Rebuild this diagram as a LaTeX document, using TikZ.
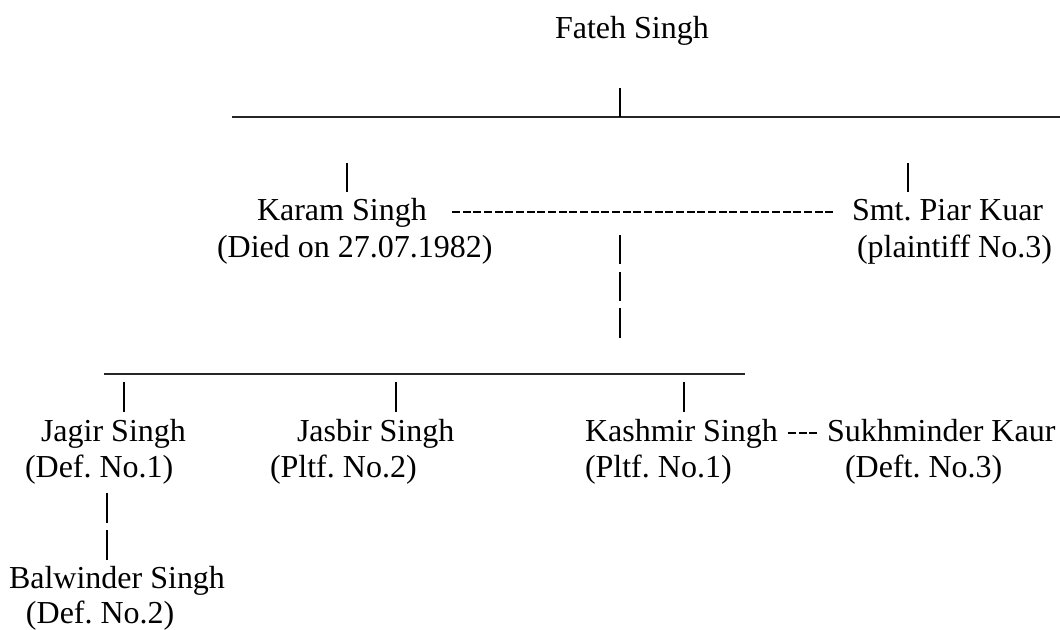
\documentclass[tikz,border=0pt]{standalone}
\usepackage{fontspec}
\setmainfont{Liberation Serif}
\frenchspacing
\begin{document}
\begin{tikzpicture}[x=0.75pt,y=-0.75pt,
  person/.style={anchor=base west,inner sep=0pt,outer sep=0pt,font=\fontsize{24}{28}\selectfont},
  bar/.style={line width=1.1pt,black},
  rule/.style={line width=1pt,black!85},
  spouse/.style={line width=1.4pt,black,dash pattern=on 6pt off 2pt}]
\useasboundingbox (0,0) rectangle (1060,629);
% people
\node[person] (fateh) at (555,38) {Fateh Singh};
\node[person] (karam) at (257,220) {Karam Singh};
\node[person] (karamnote) at (217,257) {(Died on 27.07.1982)};
\node[person] (piar) at (852,220) {Smt. Piar Kuar};
\node[person] (piarnote) at (857,257) {(plaintiff No.3)};
\node[person] (jagir) at (41,441) {Jagir Singh};
\node[person] (jagirnote) at (25,477) {(Def. No.1)};
\node[person] (jasbir) at (297,441) {Jasbir Singh};
\node[person] (jasbirnote) at (270,477) {(Pltf. No.2)};
\node[person] (kashmir) at (585,441) {Kashmir Singh};
\node[person] (kashmirnote) at (585,477) {(Pltf. No.1)};
\node[person] (sukh) at (827,441) {Sukhminder Kaur};
\node[person] (sukhnote) at (845,477) {(Deft. No.3)};
\node[person] (balwinder) at (9,588) {Balwinder Singh};
\node[person] (balwindernote) at (26,623) {(Def. No.2)};
% coordinates of the connector pieces
\coordinate (topL) at (232,117);
\coordinate (topR) at (1060,117);
\coordinate (topT) at (620,88);
\coordinate (topB) at (620,117);
\coordinate (kT) at (347,163);
\coordinate (kB) at (347,192);
\coordinate (pT) at (908,163);
\coordinate (pB) at (908,192);
\coordinate (c1T) at (620,235);
\coordinate (c1B) at (620,264);
\coordinate (c2T) at (620,272);
\coordinate (c2B) at (620,301);
\coordinate (c3T) at (620,308);
\coordinate (c3B) at (620,338);
\coordinate (botL) at (104,374);
\coordinate (botR) at (745,374);
\coordinate (jgT) at (124,382);
\coordinate (jgB) at (124,412);
\coordinate (jbT) at (396,382);
\coordinate (jbB) at (396,412);
\coordinate (ksT) at (684,382);
\coordinate (ksB) at (684,412);
\coordinate (b1T) at (107,493);
\coordinate (b1B) at (107,523);
\coordinate (b2T) at (107,530);
\coordinate (b2B) at (107,560);
% connectors
\draw[rule] (topL) -- (topR);
\draw[bar] (topT) -- (topB);
\draw[bar] (kT) -- (kB);
\draw[bar] (pT) -- (pB);
\draw[spouse] ([xshift=19pt,yshift=6pt]karam.base east) -- ([xshift=-14pt,yshift=6pt]piar.base west);
\draw[bar] (c1T) -- (c1B);
\draw[bar] (c2T) -- (c2B);
\draw[bar] (c3T) -- (c3B);
\draw[rule] (botL) -- (botR);
\draw[bar] (jgT) -- (jgB);
\draw[bar] (jbT) -- (jbB);
\draw[bar] (ksT) -- (ksB);
\draw[spouse] ([xshift=7.5pt,yshift=6pt]kashmir.base east) -- ([xshift=-6.5pt,yshift=6pt]sukh.base west);
\draw[bar] (b1T) -- (b1B);
\draw[bar] (b2T) -- (b2B);
\end{tikzpicture}
\end{document}
